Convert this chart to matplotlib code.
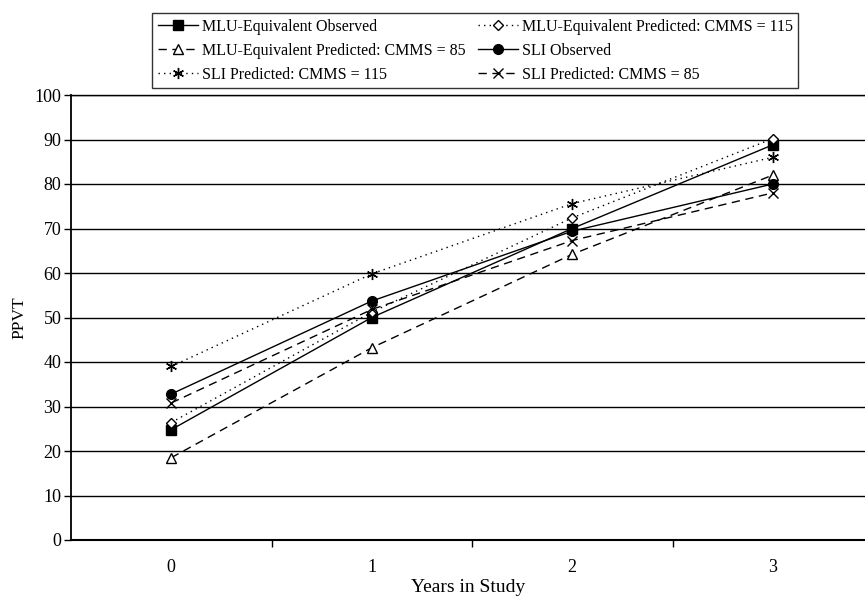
import matplotlib
matplotlib.use("Agg")
import matplotlib.pyplot as plt

years = [0, 1, 2, 3]
year_labels = ["0", "1", "2", "3"]
mlu_observed = [24.8, 50.0, 70.0, 88.8]
mlu_pred_115 = [26.4, 51.2, 72.4, 90.2]
mlu_pred_85 = [18.5, 43.2, 64.2, 82.0]
sli_observed = [32.8, 53.7, 69.4, 80.0]
sli_pred_115 = [39.0, 59.8, 75.6, 86.0]
sli_pred_85 = [30.8, 51.8, 67.3, 78.0]

plt.rcParams['font.family'] = ['Liberation Serif', 'DejaVu Serif']

W, H = 865, 597
fig = plt.figure(figsize=(W / 100, H / 100), dpi=100)
ax_left, ax_right, ax_top, ax_bottom = 71, 865, 95, 540
ax = fig.add_axes([ax_left / W, 1 - ax_bottom / H, (ax_right - ax_left) / W, (ax_bottom - ax_top) / H])

ms = 7
series = [
    ("MLU-Equivalent Observed", mlu_observed, dict(ls='-', marker='s', mfc='black', mec='black', ms=ms)),
    ("MLU-Equivalent Predicted: CMMS = 115", mlu_pred_115, dict(ls=(0, (1, 3)), marker='D', mfc='white', mec='black', ms=5.5)),
    ("MLU-Equivalent Predicted: CMMS = 85", mlu_pred_85, dict(ls=(0, (6, 4)), marker='^', mfc='white', mec='black', ms=ms)),
    ("SLI Observed", sli_observed, dict(ls='-', marker='o', mfc='black', mec='black', ms=ms)),
    ("SLI Predicted: CMMS = 115", sli_pred_115, dict(ls=(0, (1, 3)), marker=(6, 2, 0), mfc='black', mec='black', ms=8)),
    ("SLI Predicted: CMMS = 85", sli_pred_85, dict(ls=(0, (6, 4)), marker='x', mfc='black', mec='black', ms=7)),
]

handles = {}
for name, vals, st in series:
    h, = ax.plot(years, vals, color='black', lw=1.0, mew=1.0, zorder=3, label=name, **st)
    handles[name] = h

ax.set_xlim(-0.5, (ax_right - ax_left) / 200.5 - 0.5)
ax.set_ylim(0, 100)
ax.set_yticks(range(0, 101, 10))
ax.yaxis.grid(True, color='black', lw=1.0)
ax.set_axisbelow(True)
ax.set_xticks(years)
ax.set_xticklabels(year_labels)
ax.set_xticks([0.5, 1.5, 2.5], minor=True)
ax.tick_params(axis='x', which='major', length=0, labelsize=13, pad=14)
ax.tick_params(axis='x', which='minor', length=5, width=1, direction='out')
ax.tick_params(axis='y', length=5, width=1, direction='out', labelsize=13, pad=2)
ax.spines['right'].set_visible(False)
ax.spines['left'].set_linewidth(1.3)
ax.spines['bottom'].set_linewidth(1.5)
ax.spines['top'].set_linewidth(1.0)

fig.text((ax_left + ax_right) / 2 / W, 1.5 / H, "Years in Study", fontsize=14, ha='center', va='bottom')
fig.text(19 / W, 1 - 318 / H, "PPVT", fontsize=12.5, rotation=90, ha='center', va='center')

order = ["MLU-Equivalent Observed", "MLU-Equivalent Predicted: CMMS = 85", "SLI Predicted: CMMS = 115",
         "MLU-Equivalent Predicted: CMMS = 115", "SLI Observed", "SLI Predicted: CMMS = 85"]
leg = fig.legend([handles[n] for n in order], order, ncol=2, loc='upper left',
                 bbox_to_anchor=(152 / W, 1 - 13 / H), fontsize=11.5, frameon=True,
                 fancybox=False, edgecolor='black', handlelength=2.5, handletextpad=0.25,
                 columnspacing=0.8, labelspacing=0.5, borderpad=0.35, borderaxespad=0)
leg.get_frame().set_linewidth(1.0)

fig.savefig("out.png", dpi=100)
